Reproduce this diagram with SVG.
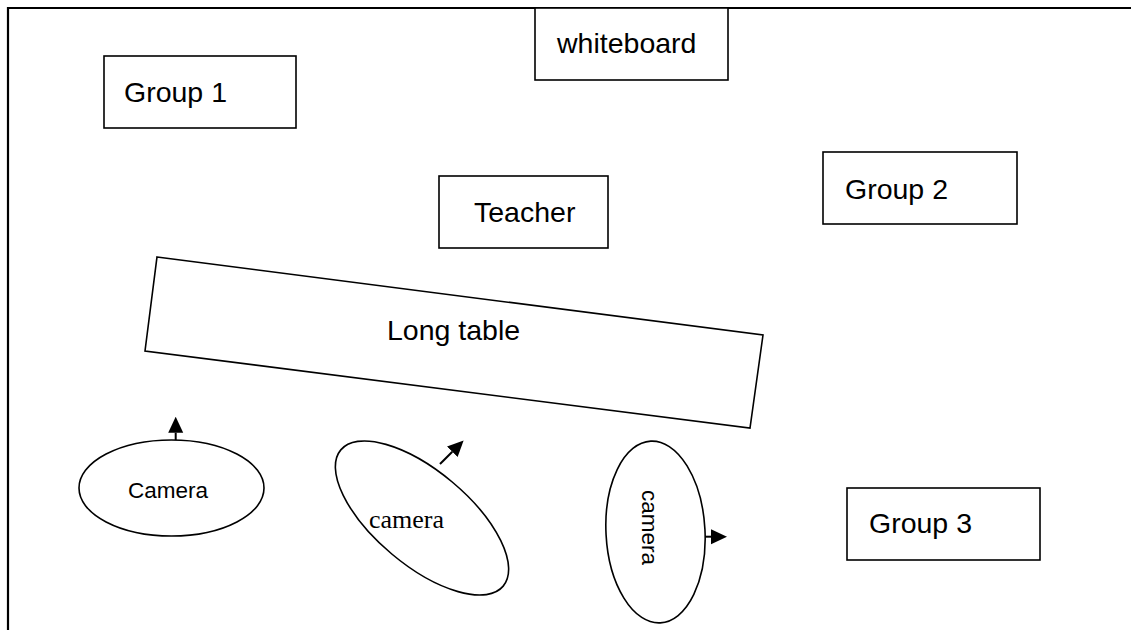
<svg xmlns="http://www.w3.org/2000/svg" width="1131" height="630" viewBox="0 0 1131 630">
  <style>
    .box { fill: #ffffff; stroke: #000000; stroke-width: 1.6; }
    .frame { fill: none; stroke: #000000; stroke-width: 2.2; }
    .lbl { font-family: "Liberation Sans", Arial, sans-serif; font-size: 28.5px; fill: #000000; }
    .cam { font-family: "Liberation Sans", Arial, sans-serif; font-size: 22.5px; fill: #000000; }
    .camserif { font-family: "Liberation Serif", "Times New Roman", serif; font-size: 26px; fill: #000000; }
    .conn { stroke: #000000; stroke-width: 2; fill: none; marker-end: url(#arrow); }
  </style>
  <defs>
    <marker id="arrow" markerUnits="userSpaceOnUse" viewBox="0 0 16 16" refX="0" refY="8" markerWidth="16" markerHeight="16" orient="auto">
      <path d="M0,0.5 L16,8 L0,15.5 Z" fill="#000000"/>
    </marker>
  </defs>
  <rect x="0" y="0" width="1131" height="630" fill="#ffffff"/>
  <g id="room">
    <path class="frame" d="M8,630 L8,8 L1131,8"/>
  </g>
  <g id="whiteboard">
    <rect class="box" x="535" y="8" width="193" height="72"/>
    <text class="lbl" x="557" y="53">whiteboard</text>
  </g>
  <g id="group1">
    <rect class="box" x="104" y="56" width="192" height="72"/>
    <text class="lbl" x="124" y="102">Group 1</text>
  </g>
  <g id="group2">
    <rect class="box" x="823" y="152" width="194" height="72"/>
    <text class="lbl" x="845" y="199">Group 2</text>
  </g>
  <g id="teacher">
    <rect class="box" x="439" y="176" width="169" height="72"/>
    <text class="lbl" x="474" y="222">Teacher</text>
  </g>
  <g id="long-table">
    <polygon class="box" points="157,257 763,335 750,428 145,351"/>
    <text class="lbl" x="387" y="340">Long table</text>
  </g>
  <g id="group3">
    <rect class="box" x="847" y="488" width="193" height="72"/>
    <text class="lbl" x="869" y="533">Group 3</text>
  </g>
  <g id="camera1">
    <ellipse class="box" cx="171.5" cy="488" rx="92.5" ry="48"/>
    <text class="cam" x="128" y="498">Camera</text>
  </g>
  <g id="camera2">
    <ellipse class="box" cx="422" cy="518" rx="106" ry="47" transform="rotate(40 422 518)"/>
    <text class="camserif" x="369" y="528">camera</text>
  </g>
  <g id="camera3">
    <ellipse class="box" cx="655.5" cy="532" rx="49.5" ry="91" transform="rotate(-3 655.5 532)"/>
    <text class="cam" transform="translate(642,490) rotate(90)">camera</text>
  </g>
  <g id="connectors">
    <line class="conn" x1="175.7" y1="440" x2="175.7" y2="432.7"/>
    <line class="conn" x1="440" y1="464" x2="452.3" y2="451.7"/>
    <line class="conn" x1="705" y1="536.7" x2="711" y2="536.7"/>
  </g>
</svg>
